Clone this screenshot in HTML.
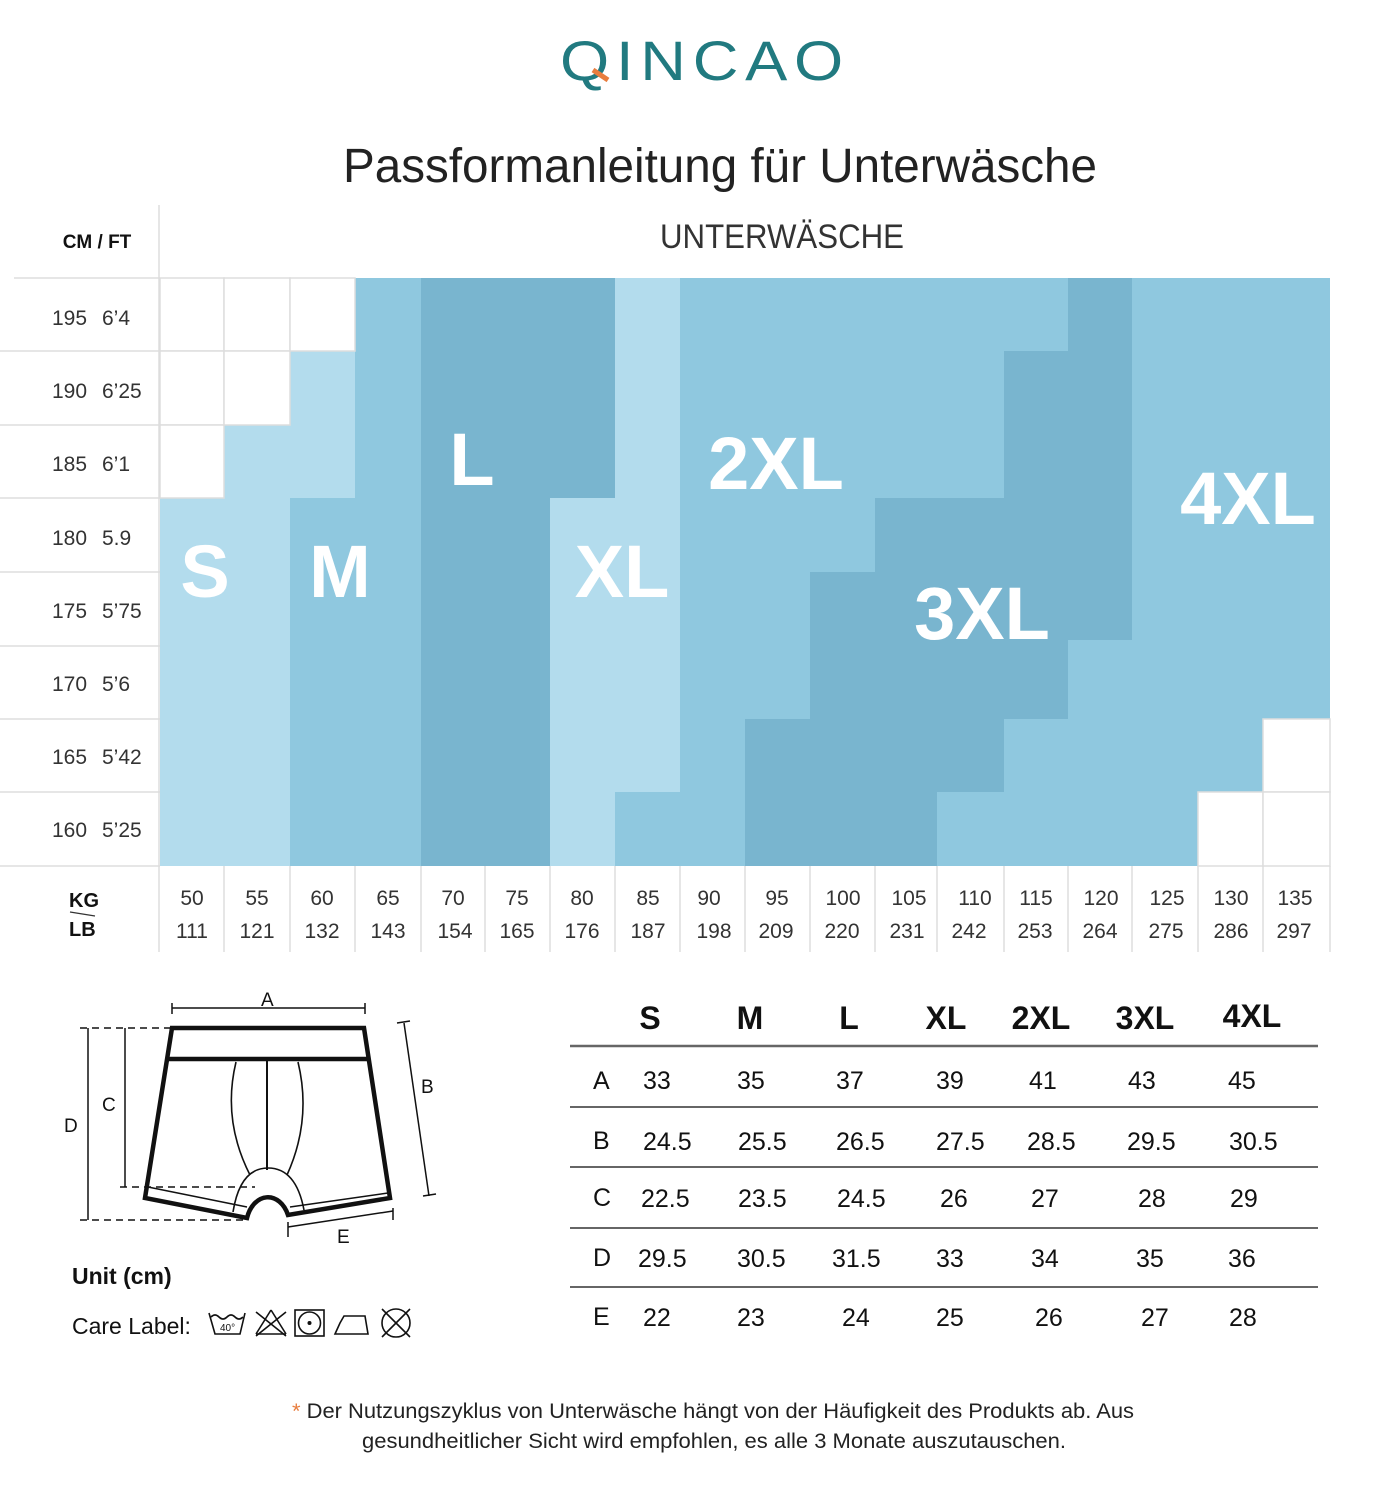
<!DOCTYPE html>
<html><head><meta charset="utf-8"><style>
html,body{margin:0;padding:0;background:#fff}
svg{display:block}
text{font-family:"Liberation Sans",sans-serif}
</style></head><body>
<svg width="1376" height="1500" viewBox="0 0 1376 1500" xmlns="http://www.w3.org/2000/svg">
<!-- logo -->
<text x="705" y="80" text-anchor="middle" font-size="56" fill="#217a80" letter-spacing="6" textLength="290" lengthAdjust="spacingAndGlyphs">QINCAO</text>
<line x1="593" y1="70" x2="608" y2="80" stroke="#e87d3e" stroke-width="5"/>
<text x="720" y="182" text-anchor="middle" font-size="48" fill="#222" textLength="754" lengthAdjust="spacingAndGlyphs">Passformanleitung für Unterwäsche</text>
<text x="782" y="248" text-anchor="middle" font-size="34" fill="#333" textLength="244" lengthAdjust="spacingAndGlyphs">UNTERWÄSCHE</text>
<text x="97" y="248" text-anchor="middle" font-size="19" font-weight="bold" fill="#111">CM / FT</text>

<!-- chart base -->
<rect x="160" y="278" width="1170" height="588" fill="#8fc8df"/>
<g fill="#b3dced">
<rect x="160" y="498" width="64" height="368"/>
<rect x="224" y="425" width="66" height="441"/>
<rect x="290" y="351" width="65" height="147"/>
<rect x="550" y="498" width="65" height="368"/>
<rect x="615" y="278" width="65" height="514"/>
</g>
<g fill="#79b5cf">
<rect x="421" y="278" width="129" height="588"/>
<rect x="550" y="278" width="65" height="220"/>
<rect x="745" y="719" width="65" height="147"/>
<rect x="810" y="572" width="65" height="294"/>
<rect x="875" y="498" width="62" height="368"/>
<rect x="937" y="498" width="67" height="294"/>
<rect x="1004" y="351" width="64" height="368"/>
<rect x="1068" y="278" width="64" height="362"/>
</g>
<g fill="#fff" stroke="#ddd" stroke-width="1.5">
<rect x="160" y="278" width="64" height="73"/><rect x="160" y="351" width="64" height="74"/><rect x="160" y="425" width="64" height="73"/>
<rect x="224" y="278" width="66" height="73"/><rect x="224" y="351" width="66" height="74"/>
<rect x="290" y="278" width="65" height="73"/>
<rect x="1198" y="792" width="65" height="74"/>
<rect x="1263" y="719" width="67" height="73"/><rect x="1263" y="792" width="67" height="74"/>
</g>
<g fill="#fff" font-weight="bold" font-size="74" text-anchor="middle">
<text x="205" y="597">S</text>
<text x="340" y="597">M</text>
<text x="472" y="485">L</text>
<text x="622" y="597">XL</text>
<text x="776" y="489">2XL</text>
<text x="982" y="639">3XL</text>
<text x="1248" y="524">4XL</text>
</g>

<!-- left axis -->
<g stroke="#ddd" stroke-width="1.5">
<line x1="14" y1="278" x2="160" y2="278"/>
<line x1="0" y1="351" x2="160" y2="351"/><line x1="0" y1="425" x2="160" y2="425"/>
<line x1="0" y1="498" x2="160" y2="498"/><line x1="0" y1="572" x2="160" y2="572"/>
<line x1="0" y1="646" x2="160" y2="646"/><line x1="0" y1="719" x2="160" y2="719"/>
<line x1="0" y1="792" x2="160" y2="792"/><line x1="0" y1="866" x2="160" y2="866"/>
<line x1="159" y1="205" x2="159" y2="952"/>
</g>
<g font-size="21" fill="#333">
<text x="52" y="325">195</text><text x="102" y="325">6’4</text>
<text x="52" y="398">190</text><text x="102" y="398">6’25</text>
<text x="52" y="471">185</text><text x="102" y="471">6’1</text>
<text x="52" y="545">180</text><text x="102" y="545">5.9</text>
<text x="52" y="618">175</text><text x="102" y="618">5’75</text>
<text x="52" y="691">170</text><text x="102" y="691">5’6</text>
<text x="52" y="764">165</text><text x="102" y="764">5’42</text>
<text x="52" y="837">160</text><text x="102" y="837">5’25</text>
</g>
<text x="69" y="907" font-size="20" font-weight="bold" fill="#111">KG</text>
<line x1="70" y1="912" x2="95" y2="916" stroke="#333" stroke-width="1.2"/>
<text x="69" y="936" font-size="20" font-weight="bold" fill="#111">LB</text>

<!-- bottom axis -->
<g stroke="#ddd" stroke-width="1.5">
<line x1="224" y1="866" x2="224" y2="952"/><line x1="290" y1="866" x2="290" y2="952"/>
<line x1="355" y1="866" x2="355" y2="952"/><line x1="421" y1="866" x2="421" y2="952"/>
<line x1="485" y1="866" x2="485" y2="952"/><line x1="550" y1="866" x2="550" y2="952"/>
<line x1="615" y1="866" x2="615" y2="952"/><line x1="680" y1="866" x2="680" y2="952"/>
<line x1="745" y1="866" x2="745" y2="952"/><line x1="810" y1="866" x2="810" y2="952"/>
<line x1="875" y1="866" x2="875" y2="952"/><line x1="937" y1="866" x2="937" y2="952"/>
<line x1="1004" y1="866" x2="1004" y2="952"/><line x1="1068" y1="866" x2="1068" y2="952"/>
<line x1="1132" y1="866" x2="1132" y2="952"/><line x1="1198" y1="866" x2="1198" y2="952"/>
<line x1="1263" y1="866" x2="1263" y2="952"/><line x1="1330" y1="866" x2="1330" y2="952"/>
</g>
<g font-size="21" fill="#333" text-anchor="middle">
<text x="192" y="905">50</text><text x="192" y="938">111</text>
<text x="257" y="905">55</text><text x="257" y="938">121</text>
<text x="322" y="905">60</text><text x="322" y="938">132</text>
<text x="388" y="905">65</text><text x="388" y="938">143</text>
<text x="453" y="905">70</text><text x="455" y="938">154</text>
<text x="517" y="905">75</text><text x="517" y="938">165</text>
<text x="582" y="905">80</text><text x="582" y="938">176</text>
<text x="648" y="905">85</text><text x="648" y="938">187</text>
<text x="709" y="905">90</text><text x="714" y="938">198</text>
<text x="777" y="905">95</text><text x="776" y="938">209</text>
<text x="843" y="905">100</text><text x="842" y="938">220</text>
<text x="909" y="905">105</text><text x="907" y="938">231</text>
<text x="975" y="905">110</text><text x="969" y="938">242</text>
<text x="1036" y="905">115</text><text x="1035" y="938">253</text>
<text x="1101" y="905">120</text><text x="1100" y="938">264</text>
<text x="1167" y="905">125</text><text x="1166" y="938">275</text>
<text x="1231" y="905">130</text><text x="1231" y="938">286</text>
<text x="1295" y="905">135</text><text x="1294" y="938">297</text>
</g>

<!-- diagram -->
<g stroke="#111" fill="none">
<line x1="172" y1="1008" x2="365" y2="1008" stroke-width="1.5"/>
<line x1="172" y1="1003" x2="172" y2="1014" stroke-width="1.5"/>
<line x1="365" y1="1003" x2="365" y2="1014" stroke-width="1.5"/>
<path d="M172 1028 L364 1028 L390 1198 L288 1215 A22 30 0 0 0 247 1218 L145 1198 Z" stroke-width="4.5"/>
<line x1="167" y1="1059" x2="368" y2="1059" stroke-width="4.5"/>
<line x1="267" y1="1060" x2="267" y2="1170" stroke-width="2"/>
<path d="M236 1062 Q222 1120 250 1175" stroke-width="1.6"/>
<path d="M298 1062 Q312 1120 287 1175" stroke-width="1.6"/>
<path d="M233 1212 Q240 1168 268 1168 Q296 1168 304 1210" stroke-width="1.6"/>
<line x1="148" y1="1187" x2="247" y2="1207" stroke-width="1.5"/>
<line x1="290" y1="1207" x2="388" y2="1193" stroke-width="1.5"/>
<line x1="88" y1="1028" x2="88" y2="1220" stroke-width="1.5"/>
<line x1="80" y1="1028" x2="172" y2="1028" stroke-width="1.5" stroke-dasharray="7 5"/>
<line x1="80" y1="1220" x2="248" y2="1220" stroke-width="1.5" stroke-dasharray="7 5"/>
<line x1="125" y1="1028" x2="125" y2="1187" stroke-width="1.5"/>
<line x1="120" y1="1187" x2="255" y2="1187" stroke-width="1.5" stroke-dasharray="7 5"/>
<line x1="404" y1="1023" x2="429" y2="1196" stroke-width="1.5"/>
<line x1="397" y1="1023" x2="410" y2="1021" stroke-width="1.5"/>
<line x1="423" y1="1196" x2="436" y2="1194" stroke-width="1.5"/>
<line x1="288" y1="1227" x2="393" y2="1211" stroke-width="1.5"/>
<line x1="288" y1="1222" x2="288" y2="1237" stroke-width="1.5"/>
<line x1="393" y1="1208" x2="393" y2="1220" stroke-width="1.5"/>
</g>
<g font-size="19" fill="#111">
<text x="261" y="1006">A</text><text x="421" y="1093">B</text><text x="102" y="1111">C</text>
<text x="64" y="1132">D</text><text x="337" y="1243">E</text>
</g>
<text x="72" y="1284" font-size="23" font-weight="bold" fill="#111">Unit (cm)</text>
<text x="72" y="1334" font-size="23" fill="#111">Care Label:</text>
<g stroke="#111" fill="none" stroke-width="1.6">
<path d="M209 1313 L215 1334 L240 1334 L245 1313"/><path d="M211 1317 q4 -4 8 0 q4 4 8 0 q4 -4 8 0 q4 4 8 0"/>
<line x1="256" y1="1334" x2="286" y2="1334"/><line x1="256" y1="1334" x2="271" y2="1310"/><line x1="286" y1="1334" x2="271" y2="1310"/>
<line x1="256" y1="1312" x2="286" y2="1336"/><line x1="286" y1="1312" x2="256" y2="1336"/>
<rect x="295" y="1310" width="29" height="26"/><circle cx="309.5" cy="1323" r="11"/>
<path d="M335 1334 L368 1334 L365 1316 L344 1316 L340 1323 Z"/>
<circle cx="396" cy="1323" r="14"/><line x1="382" y1="1309" x2="410" y2="1337"/><line x1="410" y1="1309" x2="382" y2="1337"/>
</g>
<circle cx="309.5" cy="1323" r="2" fill="#111"/>
<text x="220" y="1331" font-size="10" fill="#111">40°</text>

<!-- table -->
<g font-size="32" font-weight="bold" fill="#111" text-anchor="middle">
<text x="650" y="1029">S</text><text x="750" y="1029">M</text><text x="849" y="1029">L</text>
<text x="946" y="1029">XL</text><text x="1041" y="1029">2XL</text><text x="1145" y="1029">3XL</text><text x="1252" y="1027">4XL</text>
</g>
<g stroke="#666">
<line x1="570" y1="1046" x2="1318" y2="1046" stroke-width="2.5"/>
<line x1="570" y1="1107" x2="1318" y2="1107" stroke-width="2"/>
<line x1="570" y1="1167" x2="1318" y2="1167" stroke-width="2"/>
<line x1="570" y1="1228" x2="1318" y2="1228" stroke-width="2"/>
<line x1="570" y1="1287" x2="1318" y2="1287" stroke-width="2"/>
</g>
<g font-size="25" fill="#111">
<text x="593" y="1089">A</text>
<text x="643" y="1089">33</text><text x="737" y="1089">35</text><text x="836" y="1089">37</text><text x="936" y="1089">39</text><text x="1029" y="1089">41</text><text x="1128" y="1089">43</text><text x="1228" y="1089">45</text>
<text x="593" y="1149">B</text>
<text x="643" y="1150">24.5</text><text x="738" y="1150">25.5</text><text x="836" y="1150">26.5</text><text x="936" y="1150">27.5</text><text x="1027" y="1150">28.5</text><text x="1127" y="1150">29.5</text><text x="1229" y="1150">30.5</text>
<text x="593" y="1206">C</text>
<text x="641" y="1207">22.5</text><text x="738" y="1207">23.5</text><text x="837" y="1207">24.5</text><text x="940" y="1207">26</text><text x="1031" y="1207">27</text><text x="1138" y="1207">28</text><text x="1230" y="1207">29</text>
<text x="593" y="1266">D</text>
<text x="638" y="1267">29.5</text><text x="737" y="1267">30.5</text><text x="832" y="1267">31.5</text><text x="936" y="1267">33</text><text x="1031" y="1267">34</text><text x="1136" y="1267">35</text><text x="1228" y="1267">36</text>
<text x="593" y="1325">E</text>
<text x="643" y="1326">22</text><text x="737" y="1326">23</text><text x="842" y="1326">24</text><text x="936" y="1326">25</text><text x="1035" y="1326">26</text><text x="1141" y="1326">27</text><text x="1229" y="1326">28</text>
</g>

<!-- footnote -->
<g font-size="21" fill="#222" text-anchor="middle">
<text x="713" y="1418" textLength="842" lengthAdjust="spacingAndGlyphs"><tspan fill="#e87d3e">* </tspan>Der Nutzungszyklus von Unterwäsche hängt von der Häufigkeit des Produkts ab. Aus</text>
<text x="714" y="1448" textLength="704" lengthAdjust="spacingAndGlyphs">gesundheitlicher Sicht wird empfohlen, es alle 3 Monate auszutauschen.</text>
</g>
</svg>
</body></html>
